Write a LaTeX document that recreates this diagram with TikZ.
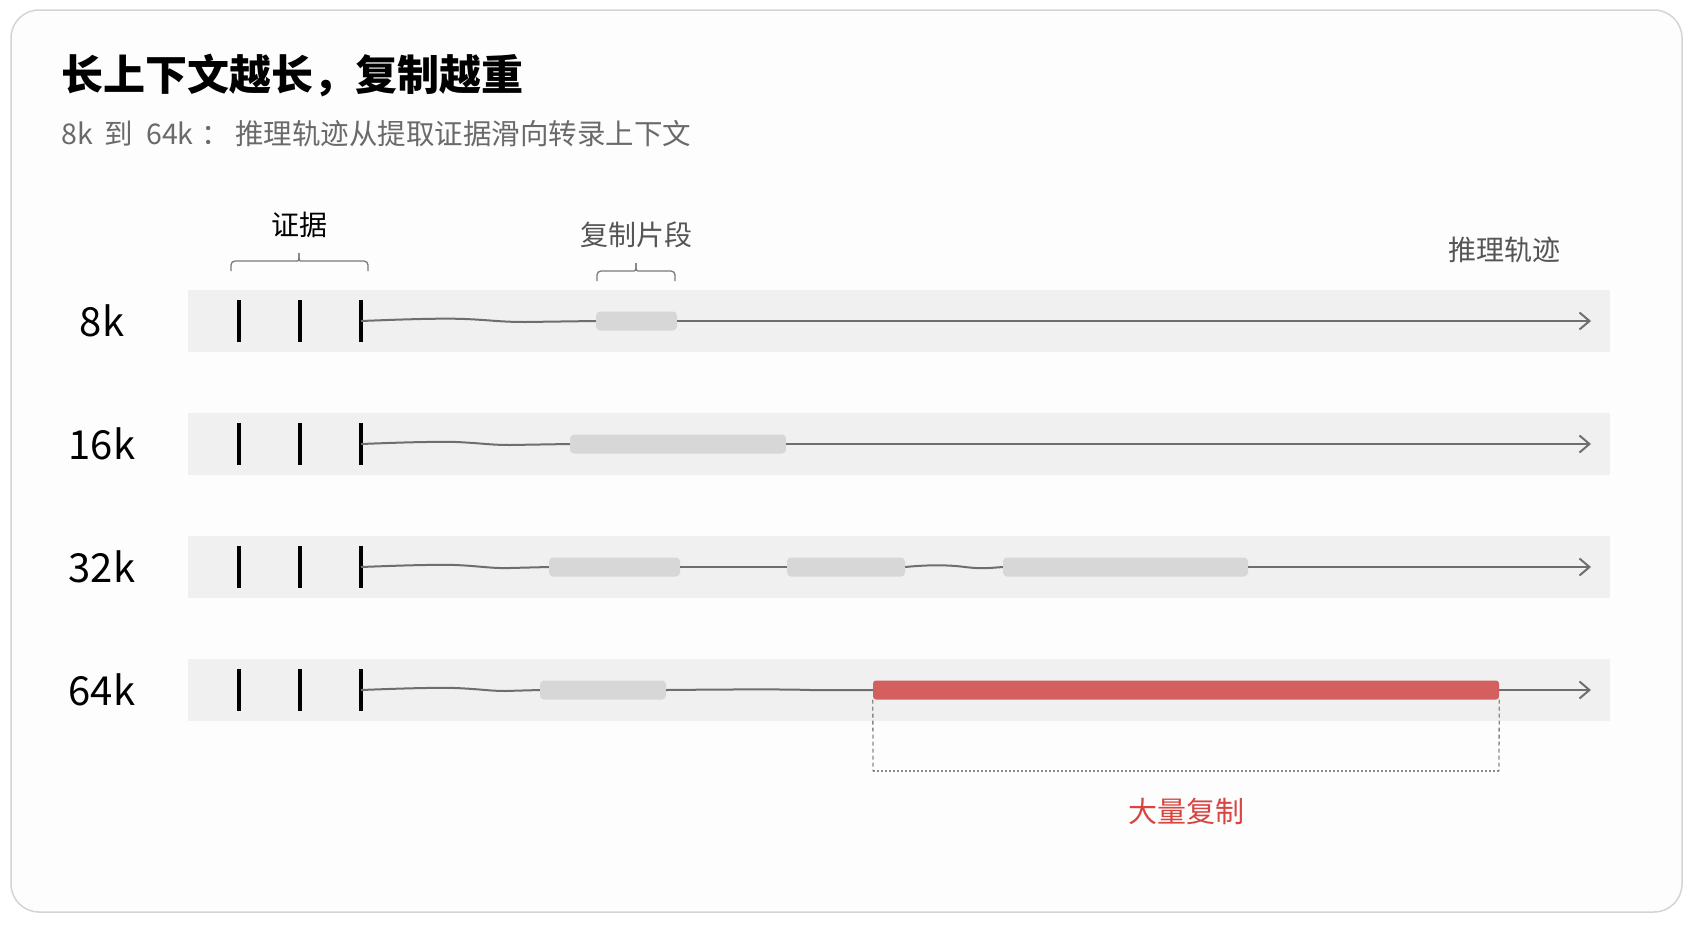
\documentclass[tikz,border=0pt]{standalone}
\usepackage{fontspec}
\setmainfont{Noto Sans CJK SC}
\usetikzlibrary{arrows.meta}
\definecolor{framec}{HTML}{D4D4D4}
\definecolor{framebg}{HTML}{FDFDFD}
\definecolor{bandc}{HTML}{F0F0F0}
\definecolor{blockc}{HTML}{D7D7D7}
\definecolor{redbar}{HTML}{D35F5F}
\definecolor{redtext}{HTML}{D8443F}
\definecolor{linec}{HTML}{6E6E6E}
\definecolor{subc}{HTML}{6A6A6A}
\definecolor{labc}{HTML}{555555}
\definecolor{bracec}{HTML}{7A7A7A}
\definecolor{boxc}{HTML}{8A8A8A}
\tikzset{
  frame/.style={draw=framec, fill=framebg, line width=1.5pt, rounded corners=28pt},
  band/.style={fill=bandc, inner sep=0pt, minimum height=62pt, minimum width=1422pt},
  rowlabel/.style={font=\fontsize{40}{46}\selectfont, text=black, inner sep=0pt},
  evtick/.style={fill=black, inner sep=0pt, minimum width=4.5pt, minimum height=42pt},
  cblock/.style={fill=blockc, rounded corners=4pt, inner sep=0pt, minimum height=19pt},
  rblock/.style={fill=redbar, rounded corners=3pt, inner sep=0pt, minimum height=19pt},
  traj/.style={draw=linec, line width=2pt},
  trajend/.style={traj, -{Straight Barb[length=10pt,width=17pt,line width=2pt]}},
  bracep/.style={draw=bracec, line width=1.3pt, rounded corners=4pt},
  toplabel/.style={font=\fontsize{28}{34}\selectfont, inner sep=0pt},
  dashside/.style={draw=boxc, line width=1.3pt, dash pattern=on 4pt off 3pt},
  dotside/.style={draw=boxc, line width=1.3pt, dash pattern=on 2pt off 2pt},
}
\begin{document}
\begin{tikzpicture}[x=1pt,y=-1pt]
\useasboundingbox (0,0) rectangle (1693,929);
\fill[white] (0,0) rectangle (1693,929);
\draw[frame] (11,10) rectangle (1682,912);

% titles
\node[anchor=west, inner sep=0pt, font=\fontsize{42}{48}\selectfont\bfseries] (title) at (61,76) {长上下文越长，复制越重};
\node[anchor=west, inner sep=0pt, text=subc, font=\fontsize{28.5}{34}\selectfont] (subtitle) at (61,134) {8k\hspace{12pt}到\hspace{13pt}64k\hspace{8pt}：\hspace{5pt}推理轨迹从提取证据滑向转录上下文};

% top labels
\node[toplabel, text=black] (evlab) at (299,225) {证据};
\node[toplabel, text=labc] (cplab) at (636,235) {复制片段};
\node[toplabel, text=labc] (trlab) at (1504,250) {推理轨迹};

% braces
\draw[bracep] (231,271) -- (231,261) -- (292,261) .. controls (299,261) .. (299,253);
\draw[bracep] (368,271) -- (368,261) -- (306,261) .. controls (299,261) .. (299,253);
\draw[bracep] (597,281) -- (597,271) -- (630,271) .. controls (636,271) .. (636,263);
\draw[bracep] (675,281) -- (675,271) -- (642,271) .. controls (636,271) .. (636,263);

% bands
\node[band] (band1) at (899,321) {};
\node[band] (band2) at (899,444) {};
\node[band] (band3) at (899,567) {};
\node[band] (band4) at (899,690) {};

% row labels
\node[rowlabel] (l1) at (102,321) {8k};
\node[rowlabel] (l2) at (102,444) {16k};
\node[rowlabel] (l3) at (102,567) {32k};
\node[rowlabel] (l4) at (102,690) {64k};

% evidence ticks
\foreach \r/\yy in {1/321,2/444,3/567,4/690}{
  \node[evtick] (e\r a) at (239,\yy) {};
  \node[evtick] (e\r b) at (300,\yy) {};
  \node[evtick] (e\r c) at (361,\yy) {};
}

% blocks
\node[cblock, minimum width=81pt]  (b11) at (636.5,321) {};
\node[cblock, minimum width=216pt] (b21) at (678,444) {};
\node[cblock, minimum width=131pt] (b31) at (614.5,567) {};
\node[cblock, minimum width=118pt] (b32) at (846,567) {};
\node[cblock, minimum width=245pt] (b33) at (1125.5,567) {};
\node[cblock, minimum width=126pt] (b41) at (603,690) {};
\node[rblock, minimum width=626pt] (red) at (1186,690) {};

% arrow ends
\coordinate (end1) at (1591,321);
\coordinate (end2) at (1591,444);
\coordinate (end3) at (1591,567);
\coordinate (end4) at (1591,690);

% trajectories
\draw[traj] (e1c.center) .. controls (400,319.5) and (440,318) .. (465,319) .. controls (490,320) and (500,322) .. (525,322) -- (b11.west);
\draw[trajend] (b11.east) -- (end1);

\draw[traj] (e2c.center) .. controls (400,442.5) and (430,441.5) .. (456,442) .. controls (480,443) and (490,445) .. (510,445) -- (b21.west);
\draw[trajend] (b21.east) -- (end2);

\draw[traj] (e3c.center) .. controls (400,565.5) and (430,564.5) .. (455,565) .. controls (480,566) and (490,568.5) .. (510,568) -- (b31.west);
\draw[traj] (b31.east) -- (b32.west);
\draw[traj] (b32.east) .. controls (930,564.5) and (950,565) .. (965,567) .. controls (980,569) and (990,568) .. (b33.west);
\draw[trajend] (b33.east) -- (end3);

\draw[traj] (e4c.center) .. controls (400,688.5) and (430,687.5) .. (455,688) .. controls (480,689) and (490,691) .. (505,691) -- (b41.west);
\draw[traj] (b41.east) .. controls (720,689.5) and (780,689) .. (810,690) -- (red.west);
\draw[trajend] (red.east) -- (end4);

% dashed bracket under the red bar
\coordinate (dl) at (873,771);
\coordinate (dr) at (1499,771);
\draw[dashside] (red.south west) -- (dl);
\draw[dotside] (dl) -- (dr);
\draw[dashside] (red.south east) -- (dr);

\node[font=\fontsize{29}{34}\selectfont, text=redtext, inner sep=0pt] (biglab) at (1186,811) {大量复制};
\end{tikzpicture}
\end{document}
